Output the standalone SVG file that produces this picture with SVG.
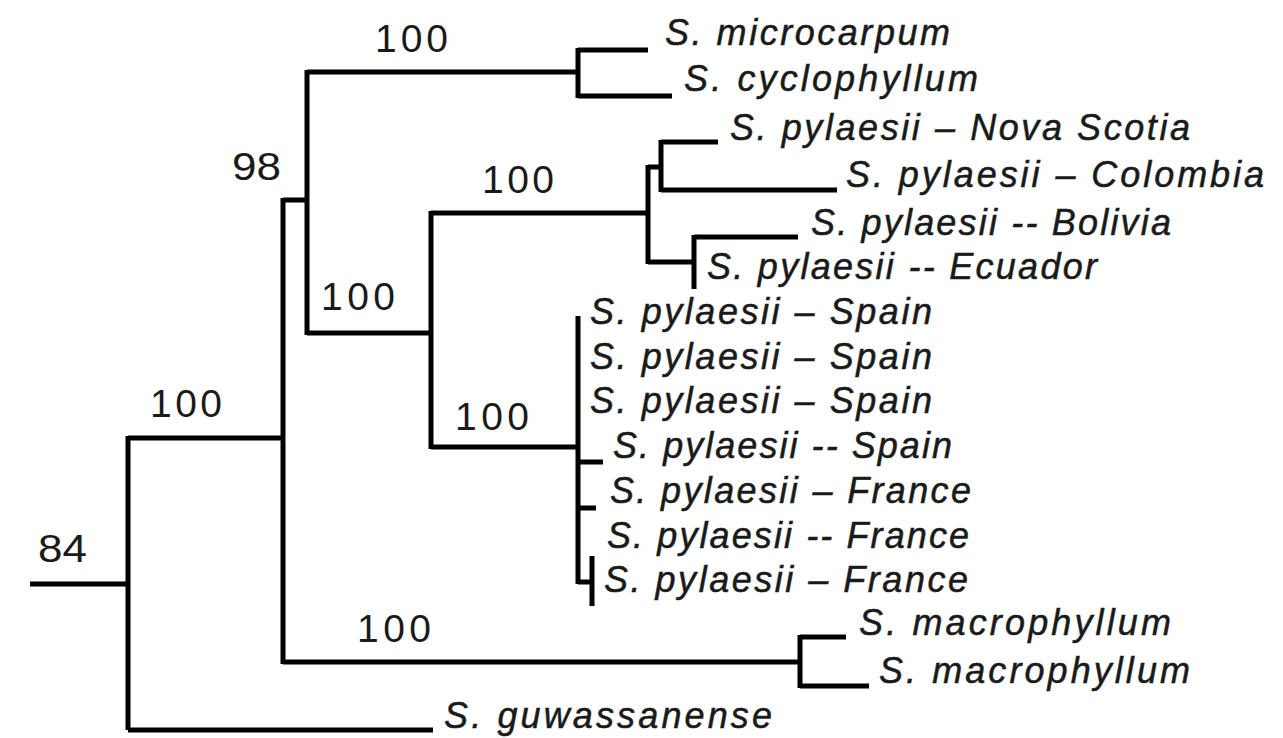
<svg xmlns="http://www.w3.org/2000/svg" width="1283" height="738" viewBox="0 0 1283 738">
<style>
.br{fill:none;stroke:#000;stroke-width:5;stroke-linecap:butt;stroke-linejoin:miter}
.tx{font-family:"Liberation Sans",Arial,sans-serif;font-style:italic;font-size:36px;fill:#1a1a1a;stroke:#1a1a1a;stroke-width:0.5}
.bs{font-family:"Liberation Sans",Arial,sans-serif;font-size:39px;fill:#1a1a1a}
</style>
<rect width="1283" height="738" fill="#fff"/>
<g id="connectors" class="br">
<path d="M30,584H128M128,436V730M128,438H283M128,730H433"/>
<path d="M283,198V664M283,200H307M307,70V335M307,72H578"/>
<path d="M578,48V98M578,50H648M578,96H672"/>
<path d="M307,333H431M431,211V449M431,213H648"/>
<path d="M648,165V264M648,167H661M661,140V192M661,142H718M661,190H837"/>
<path d="M648,262H694M694,235V289M694,237H798"/>
<path d="M431,447H578M578,316V584M578,462H603M578,508H596M578,582H592M592,556V606"/>
<path d="M283,662H800M800,635V688M800,637H846M800,686H869"/>
</g>
<g id="support">
<text class="bs" x="38" y="562" textLength="49" lengthAdjust="spacingAndGlyphs">84</text>
<text class="bs" x="150" y="417" textLength="72" lengthAdjust="spacing">100</text>
<text class="bs" x="232" y="180" textLength="49" lengthAdjust="spacingAndGlyphs">98</text>
<text class="bs" x="375" y="52" textLength="73" lengthAdjust="spacing">100</text>
<text class="bs" x="321" y="310" textLength="74" lengthAdjust="spacing">100</text>
<text class="bs" x="482" y="193" textLength="72" lengthAdjust="spacing">100</text>
<text class="bs" x="455" y="430" textLength="74" lengthAdjust="spacing">100</text>
<text class="bs" x="357" y="642" textLength="74" lengthAdjust="spacing">100</text>
</g>
<g id="n-microcarpum"><text class="tx" x="665" y="45" textLength="285" lengthAdjust="spacing">S. microcarpum</text></g>
<g id="n-cyclophyllum"><text class="tx" x="684" y="91" textLength="294" lengthAdjust="spacing">S. cyclophyllum</text></g>
<g id="n-novascotia"><text class="tx" x="730" y="140" textLength="460" lengthAdjust="spacing">S. pylaesii – Nova Scotia</text></g>
<g id="n-colombia"><text class="tx" x="846" y="187" textLength="418" lengthAdjust="spacing">S. pylaesii – Colombia</text></g>
<g id="n-bolivia"><text class="tx" x="811" y="235" textLength="360" lengthAdjust="spacing">S. pylaesii -- Bolivia</text></g>
<g id="n-ecuador"><text class="tx" x="707" y="279" textLength="390" lengthAdjust="spacing">S. pylaesii -- Ecuador</text></g>
<g id="n-spain1"><text class="tx" x="590" y="324" textLength="342" lengthAdjust="spacing">S. pylaesii – Spain</text></g>
<g id="n-spain2"><text class="tx" x="590" y="369" textLength="342" lengthAdjust="spacing">S. pylaesii – Spain</text></g>
<g id="n-spain3"><text class="tx" x="590" y="413" textLength="342" lengthAdjust="spacing">S. pylaesii – Spain</text></g>
<g id="n-spain4"><text class="tx" x="613" y="458" textLength="339" lengthAdjust="spacing">S. pylaesii -- Spain</text></g>
<g id="n-france1"><text class="tx" x="610" y="503" textLength="361" lengthAdjust="spacing">S. pylaesii – France</text></g>
<g id="n-france2"><text class="tx" x="607" y="548" textLength="362" lengthAdjust="spacing">S. pylaesii -- France</text></g>
<g id="n-france3"><text class="tx" x="604" y="592" textLength="364" lengthAdjust="spacing">S. pylaesii – France</text></g>
<g id="n-macrophyllum1"><text class="tx" x="859" y="635" textLength="312" lengthAdjust="spacing">S. macrophyllum</text></g>
<g id="n-macrophyllum2"><text class="tx" x="879" y="683" textLength="311" lengthAdjust="spacing">S. macrophyllum</text></g>
<g id="n-guwassanense"><text class="tx" x="444" y="728" textLength="328" lengthAdjust="spacing">S. guwassanense</text></g>
</svg>
